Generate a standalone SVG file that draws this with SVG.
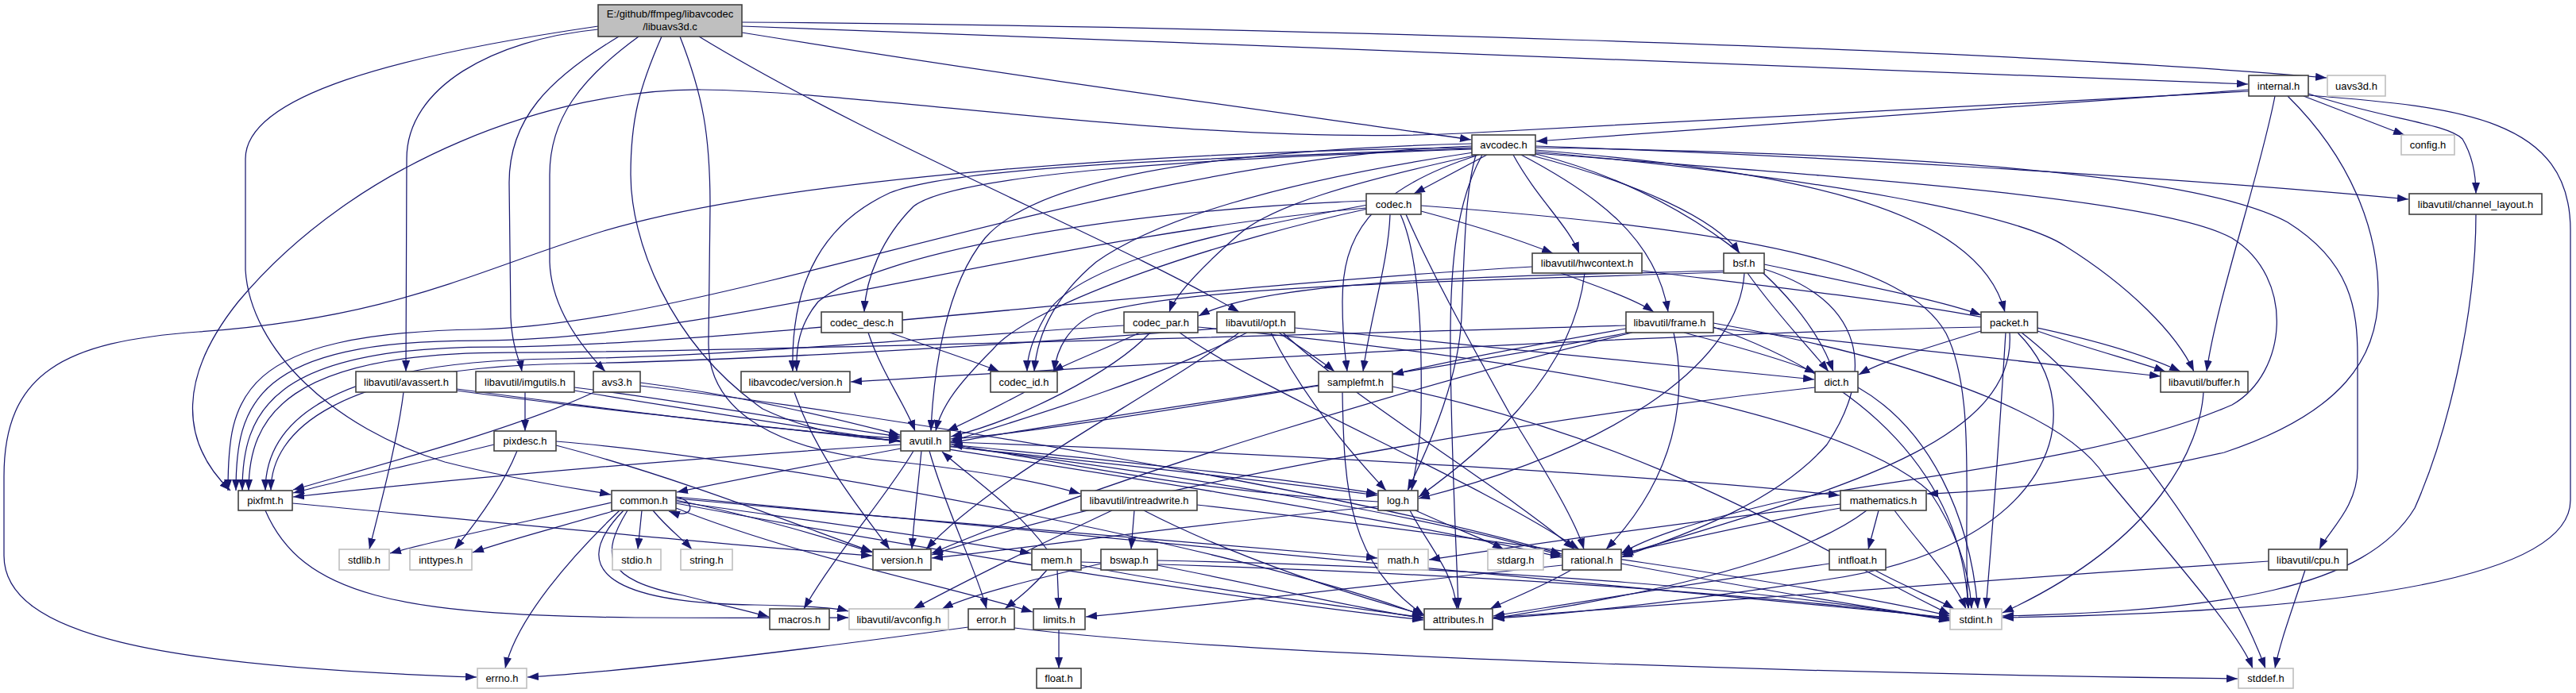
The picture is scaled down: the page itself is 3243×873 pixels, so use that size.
<svg xmlns="http://www.w3.org/2000/svg" width="3243" height="873" viewBox="0 0 3243 873">
<defs>
<marker id="a" markerWidth="15" markerHeight="10" refX="14" refY="5" orient="auto" markerUnits="userSpaceOnUse"><path d="M0,0 L14,5 L0,10 z" fill="#191970"/></marker>
<style>
.e path{fill:none;stroke:#191970;stroke-width:1.25;marker-end:url(#a)}
.n rect{fill:#fff;stroke:#404040;stroke-width:1.6}
.g rect{fill:#fff;stroke:#bfbfbf;stroke-width:1.6}
.r rect{fill:#bfbfbf;stroke:#404040;stroke-width:1.6}
text{font-family:"Liberation Sans",Arial,sans-serif;font-size:13px;text-anchor:middle;fill:#000}
</style>
</defs>
<rect width="3243" height="873" fill="#fff"/>
<g id="edges" class="e">
<path d="M934,28 C1500,32 2500,60 2929,98"/>
<path d="M934,33 C1600,58 2400,88 2830,106"/>
<path d="M934,41 C1300,100 1600,140 1852,176"/>
<path d="M880,46 C1100,180 1400,300 1560,393"/>
<path d="M856,46 C885,120 894,170 894,260 L892,430 C890,520 980,570 1132,582 C1250,595 1320,610 1360,622"/>
<path d="M833,46 C805,110 794,150 794,220 C794,300 840,430 960,515 C1030,548 1090,553 1133,555"/>
<path d="M804,46 C730,100 692,150 692,220 L692,330 C694,390 735,440 762,468"/>
<path d="M779,46 C690,100 641,150 641,230 L643,400 C645,440 655,455 657,468"/>
<path d="M753,37 C620,50 512,110 512,200 L511,468"/>
<path d="M753,33 C500,70 309,120 309,200 L309,340 C315,440 420,540 560,582 C650,605 730,616 769,623"/>
<path d="M2831,113 C2500,135 2200,160 1934,178"/>
<path d="M2831,115 C2400,135 2000,160 1840,168 C1500,185 1100,115 883,113 C700,112 450,200 300,380 C220,480 230,560 290,618"/>
<path d="M2900,121 L3027,170"/>
<path d="M2906,118 C3000,150 3080,155 3100,175 C3112,195 3117,220 3117,244"/>
<path d="M2906,120 C3100,135 3236,150 3236,290 L3236,630 C3236,720 3000,770 2521,778"/>
<path d="M2864,121 C2845,220 2790,380 2778,468"/>
<path d="M2880,121 C2960,200 2994,290 2994,370 C2994,450 2950,520 2800,570 C2650,605 2500,620 2426,622"/>
<path d="M1872,195 L1780,244"/>
<path d="M1905,195 C1935,250 1975,285 1988,319"/>
<path d="M1915,195 C2010,245 2085,300 2100,393"/>
<path d="M1925,195 C2060,230 2160,275 2190,319"/>
<path d="M1930,193 C2120,240 2270,360 2308,468"/>
<path d="M1933,189 C2250,215 2490,260 2524,393"/>
<path d="M1933,191 C2300,225 2540,270 2600,310 C2680,360 2740,420 2762,468"/>
<path d="M1933,186 C2350,192 2760,215 2880,280 C2960,330 2968,390 2968,450 L2968,590 C2968,640 2930,670 2920,692"/>
<path d="M1933,193 C2350,225 2720,250 2810,300 C2890,350 2880,470 2810,510 C2650,580 2400,600 2250,630 C2120,660 2070,680 2041,697"/>
<path d="M1933,184 C2250,195 2700,220 3032,251"/>
<path d="M1858,195 C1845,240 1844,300 1840,400 C1836,480 1800,560 1772,618"/>
<path d="M1862,195 C1720,240 1690,300 1690,380 C1690,430 1694,450 1696,468"/>
<path d="M1853,186 C1500,190 1000,220 760,291 C600,340 500,400 250,418 C80,430 5,470 5,600 L5,700 C5,800 200,840 600,853"/>
<path d="M1853,184 C1400,200 900,410 600,415 C300,420 287,500 287,618"/>
<path d="M1853,181 C1500,190 1300,230 1240,300 C1190,360 1175,470 1172,543"/>
<path d="M1866,195 C1830,260 1825,350 1826,450 C1828,600 1834,700 1836,767"/>
<path d="M1853,188 C1500,200 1200,220 1150,260 C1110,300 1090,350 1088,393"/>
<path d="M1860,195 C1700,230 1600,260 1560,295 C1520,330 1480,370 1472,393"/>
<path d="M1855,192 C1600,230 1450,280 1380,330 C1320,380 1305,430 1302,468"/>
<path d="M1853,187 C1500,200 1200,210 1120,243 C1040,280 995,350 998,468"/>
<path d="M1789,266 C1860,285 1920,305 1955,319"/>
<path d="M1750,270 C1748,330 1725,400 1716,468"/>
<path d="M1763,270 C1790,330 1790,450 1789,520 C1788,570 1780,600 1777,618"/>
<path d="M1770,270 C1800,340 1850,430 1900,520 C1950,600 1985,660 1994,692"/>
<path d="M1789,259 C2200,290 2400,330 2450,420 C2490,500 2470,650 2478,767"/>
<path d="M1722,263 C1550,300 1300,380 1250,440 C1210,480 1185,510 1178,543"/>
<path d="M1722,258 C1550,290 1350,330 1315,400 C1298,430 1293,450 1293,468"/>
<path d="M1720,253 C1400,265 1100,320 1030,380 C1005,410 1002,440 1003,468"/>
<path d="M1720,262 C1300,300 900,429 600,429 C320,429 297,510 297,618"/>
<path d="M1093,419 C1110,470 1140,510 1152,543"/>
<path d="M1120,419 C1180,440 1240,460 1258,468"/>
<path d="M1435,419 C1390,440 1350,455 1325,468"/>
<path d="M1448,419 C1400,470 1280,530 1197,550"/>
<path d="M1485,419 C1600,500 1850,600 1988,692"/>
<path d="M1508,412 C1800,440 2300,500 2430,620 C2470,680 2480,730 2482,767"/>
<path d="M1415,410 C1100,430 900,450 700,452 C400,455 334,540 334,618"/>
<path d="M1570,419 C1450,480 1280,530 1197,556"/>
<path d="M1610,419 C1640,440 1665,455 1680,468"/>
<path d="M1630,413 C1900,440 2150,465 2284,478"/>
<path d="M1600,419 C1640,500 1700,570 1745,618"/>
<path d="M1615,419 C1700,500 1900,620 1982,692"/>
<path d="M1560,419 C1450,500 1250,600 1166,692"/>
<path d="M1532,414 C1200,440 900,455 720,458 C420,462 341,545 341,618"/>
<path d="M1965,344 C2010,360 2060,378 2082,393"/>
<path d="M1995,344 C1980,480 1850,580 1786,626"/>
<path d="M2067,341 C2300,370 2600,400 2745,468"/>
<path d="M1929,336 C1500,360 900,437 620,437 C340,437 305,520 305,618"/>
<path d="M2170,341 C1900,348 1600,350 1509,398"/>
<path d="M2170,343 C1800,355 1500,360 1380,395 C1345,410 1330,440 1327,468"/>
<path d="M2200,344 C2240,400 2280,440 2302,468"/>
<path d="M2196,344 C2190,450 2050,560 1786,628"/>
<path d="M2221,339 C2350,380 2360,470 2300,560 C2230,640 2100,680 2041,702"/>
<path d="M2221,333 C2350,360 2450,380 2494,397"/>
<path d="M2047,414 C1900,440 1800,460 1753,472"/>
<path d="M2050,419 C1800,470 1400,520 1197,558"/>
<path d="M2055,419 C1800,480 1400,600 1173,697"/>
<path d="M2107,419 C2125,500 2110,600 2022,692"/>
<path d="M2120,419 C2200,440 2260,458 2286,470"/>
<path d="M2157,412 C2350,480 2470,600 2478,767"/>
<path d="M2157,407 C2400,450 2600,520 2650,600 C2750,720 2820,800 2836,842"/>
<path d="M2157,413 C2400,440 2600,460 2720,474"/>
<path d="M2047,410 C1700,420 900,444 640,444 C360,444 313,525 313,618"/>
<path d="M2565,417 C2630,440 2690,455 2726,468"/>
<path d="M2494,417 C2420,440 2370,455 2340,472"/>
<path d="M2494,412 C2100,420 1600,450 1071,481"/>
<path d="M2525,419 C2520,500 2510,650 2500,767"/>
<path d="M2530,419 C2540,560 2300,620 2042,699"/>
<path d="M2540,419 C2640,520 2580,690 2300,730 C2100,760 1950,776 1880,779"/>
<path d="M2545,419 C2650,500 2800,700 2852,842"/>
<path d="M1660,486 C1450,520 1300,545 1197,553"/>
<path d="M1690,494 C1692,620 1698,710 1793,775"/>
<path d="M1753,487 C2100,560 2300,700 2455,774"/>
<path d="M2285,488 C1900,530 1400,620 1173,699"/>
<path d="M2339,488 C2430,540 2480,650 2490,767"/>
<path d="M2774,494 C2770,560 2720,680 2521,772"/>
<path d="M3117,270 C3117,400 3080,550 3040,640 C2980,740 2800,770 2521,776"/>
<path d="M2902,718 C2885,770 2870,810 2864,842"/>
<path d="M2856,707 C2500,730 2100,760 1880,778"/>
<path d="M508,494 C500,560 475,650 465,692"/>
<path d="M575,490 C800,520 1000,545 1133,552"/>
<path d="M575,492 C850,530 1400,580 1734,624"/>
<path d="M661,494 L661,543"/>
<path d="M723,488 C900,510 1050,540 1133,550"/>
<path d="M723,492 C1000,540 1600,620 1966,702"/>
<path d="M748,494 C650,540 480,585 369,617"/>
<path d="M806,482 C950,500 1080,535 1133,548"/>
<path d="M806,486 C1100,520 1700,620 1966,698"/>
<path d="M1000,494 C1030,580 1090,650 1120,692"/>
<path d="M1290,494 C1250,515 1210,535 1192,543"/>
<path d="M622,560 C520,585 430,605 369,621"/>
<path d="M651,568 C630,620 590,670 572,692"/>
<path d="M700,561 C850,600 1000,660 1098,695"/>
<path d="M700,556 C1000,580 1600,700 1792,776"/>
<path d="M1134,565 C1000,590 900,610 852,620"/>
<path d="M1134,560 C900,575 600,600 369,626"/>
<path d="M1160,568 C1155,620 1150,660 1148,692"/>
<path d="M1150,568 C1120,620 1050,700 1012,767"/>
<path d="M1170,568 C1190,640 1230,720 1242,767"/>
<path d="M1196,560 C1400,580 1600,600 1734,622"/>
<path d="M1196,562 C1500,600 1800,650 1966,700"/>
<path d="M1196,557 C1600,570 2100,600 2316,624"/>
<path d="M1735,632 C1500,620 1300,575 1198,560"/>
<path d="M1735,638 C1500,660 1300,690 1173,703"/>
<path d="M1782,643 C1830,665 1870,680 1893,692"/>
<path d="M1775,643 C1800,690 1830,720 1834,767"/>
<path d="M1318,692 C1280,640 1220,600 1186,569"/>
<path d="M1318,718 C1300,740 1280,755 1265,767"/>
<path d="M1331,718 L1333,767"/>
<path d="M1361,712 C1500,740 1700,765 1792,778"/>
<path d="M1361,708 C1800,720 2200,745 2455,780"/>
<path d="M1386,710 C1300,730 1220,750 1186,767"/>
<path d="M1457,712 C1600,740 1700,765 1792,779"/>
<path d="M1457,706 C1900,715 2250,745 2455,782"/>
<path d="M1428,643 L1424,692"/>
<path d="M1400,643 C1300,690 1200,740 1150,767"/>
<path d="M1440,643 C1550,700 1700,750 1792,774"/>
<path d="M1507,636 C1900,680 2300,740 2455,776"/>
<path d="M851,626 C876,630 876,656 842,644"/>
<path d="M770,633 C650,660 550,680 491,697"/>
<path d="M775,643 C700,665 640,680 595,696"/>
<path d="M808,643 L803,692"/>
<path d="M822,643 C840,665 860,680 871,692"/>
<path d="M780,643 C720,700 650,780 636,842"/>
<path d="M790,643 C755,700 760,730 860,750 C920,765 950,772 968,777"/>
<path d="M785,643 C700,730 800,760 950,762 C1010,763 1050,765 1068,770"/>
<path d="M851,630 C950,650 1050,680 1098,696"/>
<path d="M851,628 C1200,660 1600,690 1734,703"/>
<path d="M851,626 C1400,680 2100,740 2455,778"/>
<path d="M851,640 C1000,700 1200,740 1300,771"/>
<path d="M851,634 C1200,700 1600,760 1792,781"/>
<path d="M851,632 C1050,660 1200,680 1298,697"/>
<path d="M1219,790 C1000,820 800,845 664,853"/>
<path d="M1277,791 C1600,830 2400,850 2817,855"/>
<path d="M1333,793 L1333,842"/>
<path d="M1967,712 C1700,740 1500,765 1367,777"/>
<path d="M1978,718 C1940,740 1900,755 1876,767"/>
<path d="M2041,710 C2200,740 2350,765 2455,780"/>
<path d="M2365,643 L2352,692"/>
<path d="M2317,635 C2100,660 1900,690 1799,705"/>
<path d="M2317,640 C2200,660 2100,685 2042,697"/>
<path d="M2350,643 C2250,720 2000,760 1880,779"/>
<path d="M2385,643 C2420,690 2460,730 2475,767"/>
<path d="M2303,710 C2100,740 1950,765 1880,776"/>
<path d="M2360,718 C2400,740 2440,755 2460,767"/>
<path d="M368,634 C700,665 950,690 1098,700"/>
<path d="M334,643 C380,750 500,775 800,778 C950,779 1030,778 1068,778"/>
</g>
<g id="nodes">
<g id="root" class="r"><rect x="753" y="6" width="181" height="40"/><text x="843.5" y="22">E:/github/ffmpeg/libavcodec</text><text x="843.5" y="38">/libuavs3d.c</text></g>
<g id="internal" class="n"><rect x="2831" y="95" width="75" height="26"/><text x="2868.5" y="113">internal.h</text></g>
<g id="uavs3d" class="g"><rect x="2930" y="95" width="73" height="26"/><text x="2966.5" y="113">uavs3d.h</text></g>
<g id="avcodec" class="n"><rect x="1853" y="170" width="80" height="25"/><text x="1893" y="187">avcodec.h</text></g>
<g id="config" class="g"><rect x="3023" y="170" width="67" height="25"/><text x="3056.5" y="187">config.h</text></g>
<g id="codec" class="n"><rect x="1720" y="244" width="69" height="26"/><text x="1754.5" y="262">codec.h</text></g>
<g id="channel_layout" class="n"><rect x="3033" y="244" width="167" height="26"/><text x="3116.5" y="262">libavutil/channel_layout.h</text></g>
<g id="hwcontext" class="n"><rect x="1929" y="319" width="138" height="25"/><text x="1998" y="336">libavutil/hwcontext.h</text></g>
<g id="bsf" class="n"><rect x="2170" y="319" width="51" height="25"/><text x="2195.5" y="336">bsf.h</text></g>
<g id="codec_desc" class="n"><rect x="1034" y="393" width="102" height="26"/><text x="1085" y="411">codec_desc.h</text></g>
<g id="codec_par" class="n"><rect x="1415" y="393" width="93" height="26"/><text x="1461.5" y="411">codec_par.h</text></g>
<g id="opt" class="n"><rect x="1532" y="393" width="98" height="26"/><text x="1581" y="411">libavutil/opt.h</text></g>
<g id="frame" class="n"><rect x="2047" y="393" width="110" height="26"/><text x="2102" y="411">libavutil/frame.h</text></g>
<g id="packet" class="n"><rect x="2494" y="393" width="71" height="26"/><text x="2529.5" y="411">packet.h</text></g>
<g id="avassert" class="n"><rect x="448" y="468" width="127" height="26"/><text x="511.5" y="486">libavutil/avassert.h</text></g>
<g id="imgutils" class="n"><rect x="599" y="468" width="124" height="26"/><text x="661" y="486">libavutil/imgutils.h</text></g>
<g id="avs3" class="n"><rect x="747" y="468" width="59" height="26"/><text x="776.5" y="486">avs3.h</text></g>
<g id="lavc_version" class="n"><rect x="933" y="468" width="137" height="26"/><text x="1001.5" y="486">libavcodec/version.h</text></g>
<g id="codec_id" class="n"><rect x="1247" y="468" width="84" height="26"/><text x="1289" y="486">codec_id.h</text></g>
<g id="samplefmt" class="n"><rect x="1660" y="468" width="93" height="26"/><text x="1706.5" y="486">samplefmt.h</text></g>
<g id="dict" class="n"><rect x="2285" y="468" width="54" height="26"/><text x="2312" y="486">dict.h</text></g>
<g id="buffer" class="n"><rect x="2720" y="468" width="110" height="26"/><text x="2775" y="486">libavutil/buffer.h</text></g>
<g id="pixdesc" class="n"><rect x="622" y="543" width="78" height="25"/><text x="661" y="560">pixdesc.h</text></g>
<g id="avutil" class="n"><rect x="1134" y="543" width="62" height="25"/><text x="1165" y="560">avutil.h</text></g>
<g id="pixfmt" class="n"><rect x="300" y="618" width="68" height="25"/><text x="334" y="635">pixfmt.h</text></g>
<g id="common" class="n"><rect x="770" y="618" width="81" height="25"/><text x="810.5" y="635">common.h</text></g>
<g id="intreadwrite" class="n"><rect x="1361" y="618" width="146" height="25"/><text x="1434" y="635">libavutil/intreadwrite.h</text></g>
<g id="log" class="n"><rect x="1735" y="618" width="50" height="25"/><text x="1760" y="635">log.h</text></g>
<g id="mathematics" class="n"><rect x="2317" y="618" width="108" height="25"/><text x="2371" y="635">mathematics.h</text></g>
<g id="stdlib" class="g"><rect x="427" y="692" width="63" height="26"/><text x="458.5" y="710">stdlib.h</text></g>
<g id="inttypes" class="g"><rect x="516" y="692" width="78" height="26"/><text x="555" y="710">inttypes.h</text></g>
<g id="stdio" class="g"><rect x="771" y="692" width="61" height="26"/><text x="801.5" y="710">stdio.h</text></g>
<g id="string" class="g"><rect x="857" y="692" width="65" height="26"/><text x="889.5" y="710">string.h</text></g>
<g id="version" class="n"><rect x="1099" y="692" width="73" height="26"/><text x="1135.5" y="710">version.h</text></g>
<g id="mem" class="n"><rect x="1299" y="692" width="62" height="26"/><text x="1330" y="710">mem.h</text></g>
<g id="bswap" class="n"><rect x="1386" y="692" width="71" height="26"/><text x="1421.5" y="710">bswap.h</text></g>
<g id="math" class="g"><rect x="1735" y="692" width="63" height="26"/><text x="1766.5" y="710">math.h</text></g>
<g id="stdarg" class="g"><rect x="1873" y="692" width="70" height="26"/><text x="1908" y="710">stdarg.h</text></g>
<g id="rational" class="n"><rect x="1967" y="692" width="74" height="26"/><text x="2004" y="710">rational.h</text></g>
<g id="intfloat" class="n"><rect x="2303" y="692" width="71" height="26"/><text x="2338.5" y="710">intfloat.h</text></g>
<g id="cpu" class="n"><rect x="2856" y="692" width="99" height="26"/><text x="2905.5" y="710">libavutil/cpu.h</text></g>
<g id="macros" class="n"><rect x="969" y="767" width="75" height="26"/><text x="1006.5" y="785">macros.h</text></g>
<g id="avconfig" class="g"><rect x="1069" y="767" width="125" height="26"/><text x="1131.5" y="785">libavutil/avconfig.h</text></g>
<g id="error" class="n"><rect x="1219" y="767" width="58" height="26"/><text x="1248" y="785">error.h</text></g>
<g id="limits" class="n"><rect x="1301" y="767" width="65" height="26"/><text x="1333.5" y="785">limits.h</text></g>
<g id="attributes" class="n"><rect x="1793" y="767" width="86" height="26"/><text x="1836" y="785">attributes.h</text></g>
<g id="stdint" class="g"><rect x="2455" y="767" width="65" height="26"/><text x="2487.5" y="785">stdint.h</text></g>
<g id="errno" class="g"><rect x="601" y="842" width="62" height="25"/><text x="632" y="859">errno.h</text></g>
<g id="float" class="n"><rect x="1305" y="842" width="56" height="25"/><text x="1333" y="859">float.h</text></g>
<g id="stddef" class="g"><rect x="2818" y="842" width="69" height="25"/><text x="2852.5" y="859">stddef.h</text></g>
</g>
</svg>
